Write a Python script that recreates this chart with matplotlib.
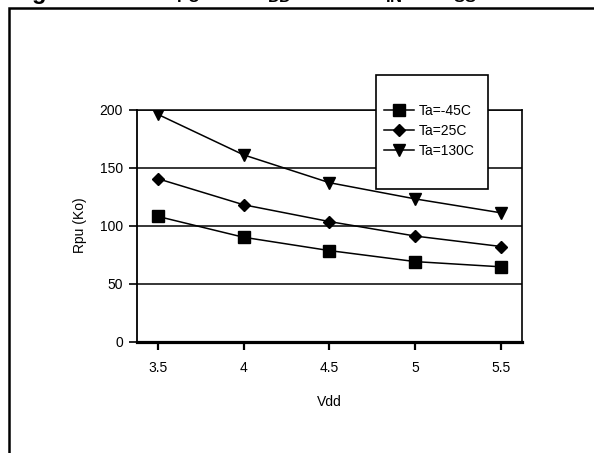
import matplotlib
matplotlib.use("Agg")
import matplotlib.pyplot as plt
from matplotlib.patches import Rectangle

# values
vdd = [3.5, 4, 4.5, 5, 5.5]
rpu_m45 = [108, 90, 78.5, 69, 64.5]
rpu_25 = [140.5, 118, 103.5, 91, 82]
rpu_130 = [196, 161, 137, 123, 111]
series_labels = ["Ta=-45C", "Ta=25C", "Ta=130C"]
yticks = [0, 50, 100, 150, 200]
xticks = [3.5, 4, 4.5, 5, 5.5]
xtick_labels = ["3.5", "4", "4.5", "5", "5.5"]

plt.rcParams["font.family"] = "Liberation Sans"
plt.rcParams["mathtext.fontset"] = "custom"
plt.rcParams["mathtext.rm"] = "Liberation Sans"
plt.rcParams["mathtext.bf"] = "Liberation Sans:bold"

fig = plt.figure(figsize=(5.94, 4.53), dpi=100)
ax = fig.add_axes([0.2306, 0.2457, 0.6481, 0.5124])

# outer frame of the figure (only top and left edges are on the page)
fig.add_artist(Rectangle((8.8 / 594, -0.2), 2, 1.2 - 7.5 / 453, fill=False,
                         edgecolor="black", lw=1.8, transform=fig.transFigure))

# title, mostly cut off above the page
title_y = 1 + 1.5 / 453
title_parts = [(11, "Figure 12."),
               (159, r"R$_{\mathbf{PU}}$ vs."),
               (251, r"V$_{\mathbf{DD}}$ with"),
               (369, r"V$_{\mathbf{IN}}$ ="),
               (437, r"V$_{\mathbf{SS}}$")]
for px, txt in title_parts:
    fig.text(px / 594, title_y, txt, fontsize=17, fontweight="bold", va="baseline")

l1, = ax.plot(vdd, rpu_m45, color="black", lw=1.1, marker="s", ms=9, zorder=3, label=series_labels[0])
l2, = ax.plot(vdd, rpu_25, color="black", lw=1.1, marker="D", ms=6.5, zorder=3, label=series_labels[1])
l3, = ax.plot(vdd, rpu_130, color="black", lw=1.1, marker="v", ms=9, zorder=3, label=series_labels[2])

ax.set_xlim(3.38, 5.62)
ax.set_ylim(0, 200)
ax.set_xticks(xticks)
ax.set_xticklabels(xtick_labels)
ax.set_yticks(yticks)
ax.yaxis.grid(True, color="black", lw=1.1)
ax.set_axisbelow(True)

ax.spines["bottom"].set_linewidth(2.3)
ax.spines["left"].set_linewidth(1.3)
ax.spines["right"].set_linewidth(1.2)
ax.spines["top"].set_linewidth(1.1)
ax.tick_params(axis="both", direction="out", length=6, width=1.2, labelsize=10, pad=4)
ax.tick_params(axis="x", width=1.6, pad=8)

ax.set_xlabel("Vdd", fontsize=10, labelpad=14)
ax.set_ylabel("Rpu (Ko)", fontsize=10, labelpad=9)

# legend box
ax.add_patch(Rectangle((375.5 / 594, 1 - 189 / 453), 112.5 / 594, 114 / 453,
                       facecolor="white", edgecolor="black", lw=1.2,
                       transform=fig.transFigure, clip_on=False, zorder=4))
ax.legend(handles=[l1, l2, l3], loc="center", bbox_to_anchor=(429 / 594, 1 - 131 / 453),
          bbox_transform=fig.transFigure, frameon=False, fontsize=10,
          handlelength=2.2, handletextpad=0.3, labelspacing=0.45, borderpad=0)

fig.savefig("out.png", dpi=100)
